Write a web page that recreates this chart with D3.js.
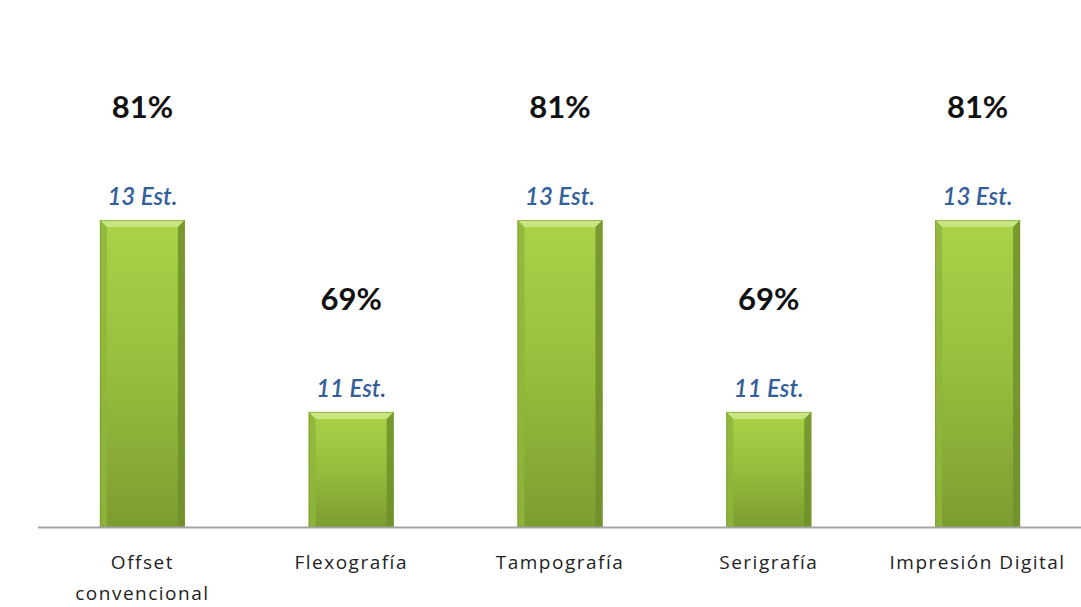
<!DOCTYPE html>
<html>
<head>
<meta charset="utf-8">
<script src="https://cdn.jsdelivr.net/npm/d3@7/dist/d3.min.js"></script>
<style>
  html, body { margin: 0; padding: 0; background: #fff; }
  svg { display: block; }
</style>
</head>
<body>
<svg id="chart" width="1081" height="607"></svg>
<script>
// Printing techniques, number of establishments and share
const categories = [["Offset", "convencional"], ["Flexografía"], ["Tampografía"], ["Serigrafía"], ["Impresión Digital"]];
const establishments = [13, 11, 13, 11, 13];
const percentLabels = ["81%", "69%", "81%", "69%", "81%"];

const svg = d3.select("#chart");
const W = 1081, H = 607;

const x = d3.scaleBand()
  .domain(d3.range(categories.length))
  .range([38, 1082])
  .paddingInner(0.593)
  .paddingOuter(0.2965);

const y = d3.scaleLinear().domain([9.8, 13]).range([527, 220]);

// bar gradient
const defs = svg.append("defs");
const g1 = defs.append("linearGradient").attr("id", "barFill")
  .attr("x1", 0).attr("y1", 0).attr("x2", 0).attr("y2", 1);
g1.append("stop").attr("offset", "0%").attr("stop-color", "#aad349");
g1.append("stop").attr("offset", "50%").attr("stop-color", "#96be3d");
g1.append("stop").attr("offset", "100%").attr("stop-color", "#7c9c31");

const bw = x.bandwidth();
const bev = 7;

const bars = svg.append("g").selectAll("g").data(establishments).join("g");

bars.append("rect")
  .attr("x", (d, i) => x(i))
  .attr("y", d => y(d))
  .attr("width", bw)
  .attr("height", d => y.range()[0] - y(d))
  .attr("fill", "url(#barFill)");

// bevel: top light strip
bars.append("path")
  .attr("d", (d, i) => {
    const x0 = x(i), x1 = x0 + bw, t = y(d);
    return `M${x0},${t}L${x1},${t}L${x1 - bev},${t + bev}L${x0 + bev},${t + bev}Z`;
  })
  .attr("fill", "#c8e680");
// left strip
bars.append("path")
  .attr("d", (d, i) => {
    const x0 = x(i), t = y(d), b = y.range()[0];
    return `M${x0},${t}L${x0 + bev},${t + bev}L${x0 + bev},${b}L${x0},${b}Z`;
  })
  .attr("fill", "#8fb53b").attr("opacity", 0.85);
// right strip
bars.append("path")
  .attr("d", (d, i) => {
    const x1 = x(i) + bw, t = y(d), b = y.range()[0];
    return `M${x1},${t}L${x1 - bev},${t + bev}L${x1 - bev},${b}L${x1},${b}Z`;
  })
  .attr("fill", "#6f8f2a").attr("opacity", 0.85);
// outline
bars.append("rect")
  .attr("x", (d, i) => x(i) + 0.5)
  .attr("y", d => y(d) + 0.5)
  .attr("width", bw - 1)
  .attr("height", d => y.range()[0] - y(d) - 1)
  .attr("fill", "none")
  .attr("stroke", "#7a9a30").attr("stroke-width", 1).attr("opacity", 0.6);

// baseline
svg.append("line")
  .attr("x1", 38).attr("x2", W)
  .attr("y1", y.range()[0] + 0.5).attr("y2", y.range()[0] + 0.5)
  .attr("stroke", "#a3a3a3").attr("stroke-width", 2);

// value labels
svg.append("g").selectAll("text").data(establishments).join("text")
  .attr("x", (d, i) => x(i) + bw / 2)
  .attr("y", d => y(d) - 15)
  .attr("text-anchor", "middle")
  .attr("font-family", "Lato, 'Open Sans', sans-serif")
  .attr("font-style", "italic")
  .attr("font-weight", 600)
  .attr("font-size", 24)
  .attr("fill", "#33609a")
  .text(d => `${d} Est.`);

svg.append("g").selectAll("text").data(percentLabels).join("text")
  .attr("x", (d, i) => x(i) + bw / 2)
  .attr("y", (d, i) => y(establishments[i]) - 102)
  .attr("text-anchor", "middle")
  .attr("font-family", "Lato, 'Open Sans', sans-serif")
  .attr("font-weight", "bold")
  .attr("font-size", 31)
  .attr("fill", "#111")
  .text(d => d);

// category labels
const cat = svg.append("g").selectAll("text").data(categories).join("text")
  .attr("x", (d, i) => x(i) + bw / 2)
  .attr("y", 569)
  .attr("text-anchor", "middle")
  .attr("font-family", "'Open Sans', sans-serif")
  .attr("font-size", 19)
  .attr("letter-spacing", 1.5)
  .attr("fill", "#222");
cat.selectAll("tspan").data(d => d).join("tspan")
  .attr("x", function () { return d3.select(this.parentNode).attr("x"); })
  .attr("dy", (d, j) => j === 0 ? 0 : 31)
  .text(d => d);
</script>
</body>
</html>
